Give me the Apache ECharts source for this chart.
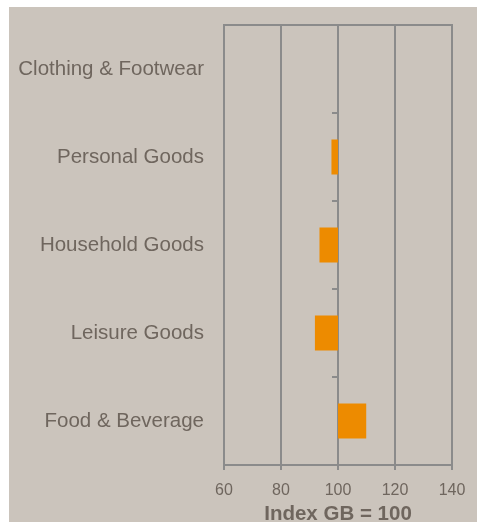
<!DOCTYPE html>
<html>
<head>
<meta charset="utf-8">
<script src="https://cdn.jsdelivr.net/npm/echarts@6/dist/echarts.min.js"></script>
<style>
  html, body { margin: 0; padding: 0; background: #ffffff; }
  #chart { position: absolute; left: 9px; top: 7px; width: 468px; height: 515px; }
</style>
</head>
<body>
<div id="chart"></div>
<script>
// Sector index relative to GB (GB = 100), top to bottom
const categories = ['Clothing & Footwear', 'Personal Goods', 'Household Goods', 'Leisure Goods', 'Food & Beverage'];
const indexValues = [100, 97.7, 93.5, 91.9, 109.9];
const baseline = 100;
const axisMin = 60;
const axisMax = 140;
const axisStep = 20;

// Bars grow from the baseline, so plot the offset from it
const offsets = indexValues.map(v => +(v - baseline).toFixed(2));

const lineColor = '#8b8b8b';
const textColor = '#6f665e';

const chart = echarts.init(document.getElementById('chart'));
chart.setOption({
  backgroundColor: '#cbc4bc',
  animation: false,
  grid: {
    left: 215, top: 18, width: 228, height: 440,
    containLabel: false,
    outerBoundsMode: 'none',
    show: true, borderColor: lineColor, borderWidth: 2, backgroundColor: 'transparent'
  },
  xAxis: {
    type: 'value',
    min: axisMin - baseline,
    max: axisMax - baseline,
    interval: axisStep,
    axisLine: { show: true, onZero: false, lineStyle: { color: lineColor, width: 2 } },
    axisTick: { show: true, length: 5, lineStyle: { color: lineColor, width: 2 } },
    splitLine: { show: true, lineStyle: { color: lineColor, width: 2 } },
    axisLabel: {
      formatter: v => String(v + baseline),
      color: textColor, fontSize: 16, fontFamily: 'Liberation Sans, Arial, sans-serif', margin: 18
    },
    name: 'Index GB = 100',
    nameLocation: 'middle',
    nameGap: 34,
    nameTextStyle: {
      color: textColor, fontSize: 20.5, fontWeight: 'bold',
      fontFamily: 'Liberation Sans, Arial, sans-serif'
    }
  },
  yAxis: {
    type: 'category',
    data: categories,
    inverse: true,
    axisLine: { show: true, onZero: true, lineStyle: { color: lineColor, width: 2 } },
    axisTick: { show: true, inside: false, length: 6, alignWithLabel: false, lineStyle: { color: lineColor, width: 2 } },
    axisLabel: {
      color: textColor, fontSize: 20.5, fontFamily: 'Liberation Sans, Arial, sans-serif',
      margin: 20, align: 'right'
    },
    splitLine: { show: false }
  },
  series: [{
    type: 'bar',
    data: offsets,
    barWidth: 35,
    itemStyle: { color: '#ed8b00' }
  }]
});
</script>
</body>
</html>
